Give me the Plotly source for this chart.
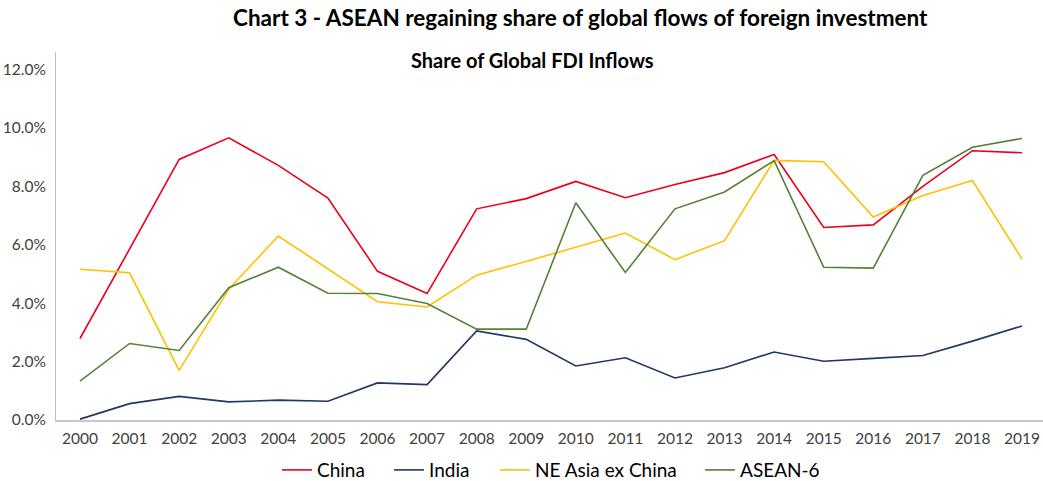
import plotly.graph_objects as go

years = list(range(2000, 2020))
china = [2.79, 5.86, 8.92, 9.66, 8.72, 7.60, 5.09, 4.33, 7.23, 7.58, 8.17, 7.61, 8.06, 8.47, 9.09, 6.59, 6.68, 8.00, 9.22, 9.15]
india = [0.03, 0.56, 0.81, 0.62, 0.68, 0.64, 1.27, 1.21, 3.05, 2.76, 1.85, 2.13, 1.44, 1.79, 2.33, 2.01, 2.11, 2.21, 2.70, 3.22]
ne_asia = [5.16, 5.04, 1.70, 4.48, 6.30, 5.17, 4.05, 3.87, 4.96, 5.43, 5.91, 6.40, 5.49, 6.14, 8.89, 8.84, 6.95, 7.69, 8.20, 5.51]
asean6 = [1.33, 2.62, 2.38, 4.53, 5.23, 4.34, 4.33, 3.99, 3.11, 3.11, 7.44, 5.05, 7.23, 7.81, 8.88, 5.23, 5.20, 8.38, 9.34, 9.64]
ytick_vals = [0, 2, 4, 6, 8, 10, 12]
ytick_text = ["0.0%", "2.0%", "4.0%", "6.0%", "8.0%", "10.0%", "12.0%"]

series = [
    ("China", china, "#E8001C"),
    ("India", india, "#1F3864"),
    ("NE Asia ex China", ne_asia, "#FFC000"),
    ("ASEAN-6", asean6, "#548235"),
]
# left edge (paper x) of each legend entry, so the entries sit apart as in the original
legend_x = [0.2239, 0.3374, 0.4448, 0.6525]

FONT = "Source Sans Pro, Lato, Noto Sans, sans-serif"

fig = go.Figure()
legend_layout = {}
for i, ((name, vals, col), lx) in enumerate(zip(series, legend_x)):
    key = "legend" if i == 0 else f"legend{i + 1}"
    fig.add_trace(go.Scatter(x=years, y=vals, name=name, mode="lines", legend=key,
                             line=dict(color=col, width=1.6)))
    legend_layout[key] = dict(orientation="h", x=lx, xanchor="left", y=-0.136, yanchor="middle",
                              font=dict(family=FONT, size=19, color="#000000"),
                              bgcolor="rgba(0,0,0,0)")

fig.update_layout(
    width=1043, height=481,
    margin=dict(l=56, r=0, t=52, b=61, autoexpand=False),
    paper_bgcolor="white", plot_bgcolor="white",
    font=dict(family=FONT, color="#404040", size=15),
    showlegend=True,
    annotations=[
        dict(text="<b>Chart 3 - ASEAN regaining share of global flows of foreign investment</b>",
             xref="paper", yref="paper", x=0.531, y=1.095, xanchor="center", yanchor="middle",
             showarrow=False, font=dict(family=FONT, size=22.5, color="#000000")),
        dict(text="<b>Share of Global FDI Inflows</b>", xref="paper", yref="paper",
             x=0.483, y=0.978, xanchor="center", yanchor="middle", showarrow=False,
             font=dict(family=FONT, size=20, color="#000000")),
    ],
    **legend_layout,
)
fig.update_xaxes(range=[1999.516, 2019.423], tickmode="array", tickvals=years,
                 ticktext=[str(y) for y in years], showgrid=False, zeroline=False,
                 showline=True, linecolor="#C8C8C8", linewidth=2, ticks="",
                 tickfont=dict(size=15.5, color="#404040"), ticklabelstandoff=3,
                 automargin=False)
fig.update_yaxes(range=[0, 12.6], tickmode="array", tickvals=ytick_vals, ticktext=ytick_text,
                 showgrid=False, zeroline=False, showline=True, linecolor="#BFBFBF",
                 linewidth=1, ticks="", tickfont=dict(size=15.5, color="#404040"),
                 ticklabelstandoff=6, automargin=False)

# remove the browser's default 8px page margin so the figure fills the window exactly
fig.write_html("out.html",
               config={"displayModeBar": False},
               post_script="document.body.style.margin='0px';"
                           "document.documentElement.style.overflow='hidden';")
